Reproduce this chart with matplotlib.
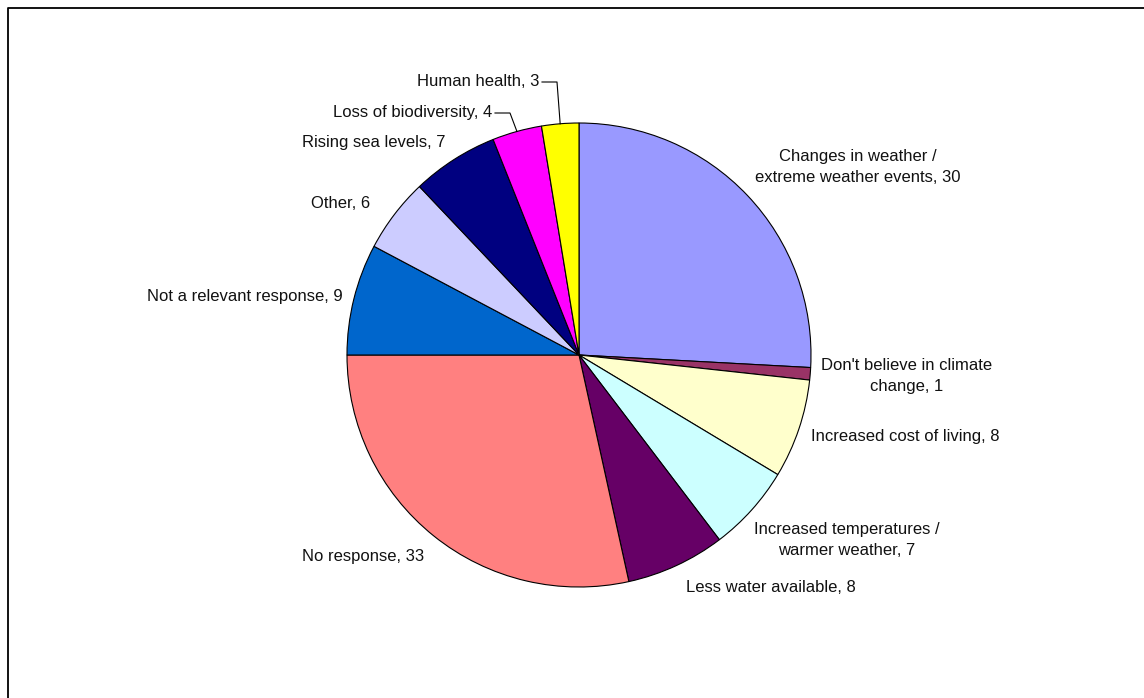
import numpy as np
import matplotlib
matplotlib.use("Agg")
import matplotlib.pyplot as plt

# data
labels = ["Changes in weather /\nextreme weather events", "Don't believe in climate\nchange",
          "Increased cost of living", "Increased temperatures /\nwarmer weather",
          "Less water available", "No response", "Not a relevant response",
          "Other", "Rising sea levels", "Loss of biodiversity", "Human health"]
values = [30, 1, 8, 7, 8, 33, 9, 6, 7, 4, 3]
colors = ["#9999FF", "#993366", "#FFFFCC", "#CCFFFF", "#660066", "#FF8080",
          "#0066CC", "#CCCCFF", "#000080", "#FF00FF", "#FFFF00"]

# layout (pixels, y from top)
W, H = 1144, 698
cx, cy, R = 579, 355, 232
label_xy = [(858, 167, "center"), (907, 376, "center"), (905, 437, "center"),
            (847, 540, "center"), (771, 588, "center"), (363, 557, "center"),
            (343, 297, "right"), (370, 204, "right"), (445, 143, "right"),
            (492, 113, "right"), (539, 82, "right")]
leaders = {9: 510, 10: 557}  # label index -> x of the bend

plt.rcParams['font.family'] = ['Liberation Sans', 'DejaVu Sans']

fig = plt.figure(figsize=(W / 100, H / 100), dpi=100)
ax = fig.add_axes([0, 0, 1, 1])

wedges, _ = ax.pie(values, colors=colors, startangle=90, counterclock=False,
                   center=(cx, H - cy), radius=R, frame=True,
                   wedgeprops=dict(edgecolor="black", linewidth=0.8))
ax.set_xlim(0, W)
ax.set_ylim(0, H)
ax.axis('off')

for i, (lab, val) in enumerate(zip(labels, values)):
    x, y, ha = label_xy[i]
    ax.text(x, H - y, f"{lab}, {val}", ha=ha, va="center", fontsize=12,
            color="#111111", linespacing=1.5, multialignment="center")
    if i in leaders:
        w = wedges[i]
        mid = np.deg2rad((w.theta1 + w.theta2) / 2)
        ex, ey = cx + R * np.cos(mid), (H - cy) + R * np.sin(mid)
        bx = leaders[i]
        ax.plot([x + 3, bx, ex], [H - y, H - y, ey], color="black", lw=0.8)

# outer frame
ax.plot([8, 8, W + 5], [-5, H - 8, H - 8], color="black", lw=1.3, clip_on=False)

fig.savefig("out.png", dpi=100)
